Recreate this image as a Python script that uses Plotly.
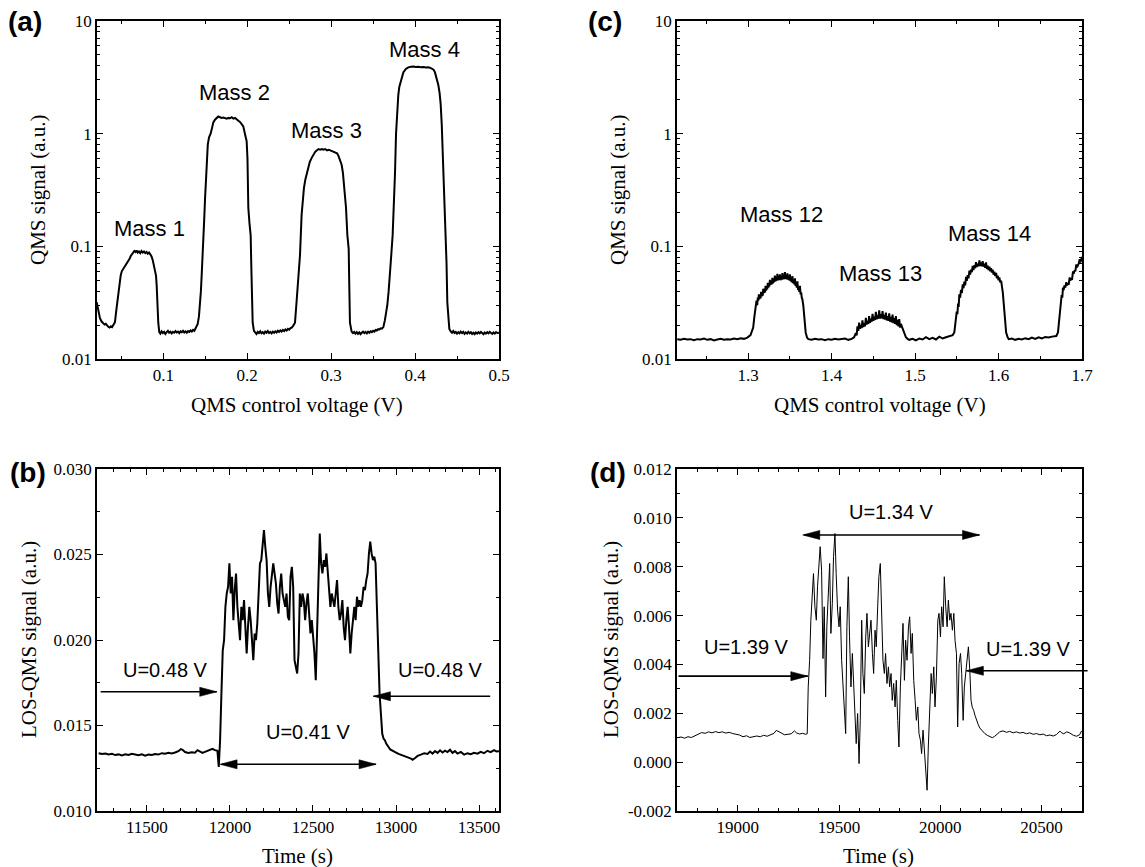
import math
import plotly.graph_objects as go

W, H = 1145, 867

# ---------------- (a) QMS scan, masses 1-4 ----------------
scan_a = [
    (0.0206, 0.032), (0.0225, 0.027), (0.0245, 0.023), (0.0265, 0.0215), (0.0285, 0.0207),
    (0.0300, 0.0202), (0.0315, 0.0205), (0.0330, 0.0196), (0.0345, 0.0193), (0.0360, 0.0190),
    (0.0375, 0.0195), (0.0390, 0.0192), (0.0404, 0.0200), (0.0415, 0.0205), (0.0424, 0.0212),
    (0.0440, 0.027), (0.0452, 0.0325), (0.0465, 0.040), (0.0476, 0.045), (0.0492, 0.055),
    (0.0505, 0.060), (0.0523, 0.063), (0.0540, 0.066), (0.0555, 0.069), (0.0570, 0.071),
    (0.0583, 0.073), (0.0600, 0.078), (0.0612, 0.082), (0.0623, 0.084), (0.0640, 0.088),
    (0.0655, 0.091), (0.0670, 0.089), (0.0682, 0.092), (0.0695, 0.088), (0.0710, 0.090),
    (0.0725, 0.087), (0.0740, 0.091), (0.0755, 0.088), (0.0770, 0.090), (0.0785, 0.087),
    (0.0801, 0.089), (0.0815, 0.086), (0.0830, 0.088), (0.0845, 0.085), (0.0861, 0.081),
    (0.0875, 0.075), (0.0889, 0.068), (0.0900, 0.062), (0.0913, 0.055), (0.0921, 0.045),
    (0.0928, 0.0325), (0.0940, 0.021), (0.0952, 0.0173), (0.0965, 0.0168), (0.0980, 0.0176),
    (0.0995, 0.0170), (0.1010, 0.0174), (0.1025, 0.0167), (0.1040, 0.0173), (0.1055, 0.0178),
    (0.1070, 0.0171), (0.1085, 0.0175), (0.1100, 0.0169), (0.1115, 0.0174), (0.1130, 0.0171),
    (0.1145, 0.0177), (0.1160, 0.0172), (0.1175, 0.0175), (0.1190, 0.0170), (0.1205, 0.0176),
    (0.1220, 0.0173), (0.1235, 0.0178), (0.1250, 0.0172), (0.1265, 0.0176), (0.1280, 0.0171),
    (0.1295, 0.0177), (0.1310, 0.0174), (0.1325, 0.0179), (0.1340, 0.0175), (0.1355, 0.0181),
    (0.1370, 0.0178), (0.1385, 0.0186), (0.1397, 0.0192), (0.1410, 0.0205), (0.1425, 0.024),
    (0.1437, 0.030), (0.1448, 0.040), (0.1457, 0.055), (0.1467, 0.075), (0.1477, 0.110),
    (0.1487, 0.17), (0.1497, 0.26), (0.1507, 0.40), (0.1516, 0.61), (0.1530, 0.80),
    (0.1545, 0.93), (0.1564, 1.00), (0.1580, 1.12), (0.1596, 1.26), (0.1616, 1.33),
    (0.1636, 1.39), (0.1655, 1.42), (0.1675, 1.40), (0.1695, 1.38), (0.1715, 1.39),
    (0.1735, 1.37), (0.1755, 1.36), (0.1775, 1.38), (0.1795, 1.37), (0.1815, 1.40),
    (0.1835, 1.36), (0.1855, 1.38), (0.1875, 1.33), (0.1895, 1.30), (0.1914, 1.27),
    (0.1935, 1.20), (0.1953, 1.16), (0.1975, 0.98), (0.1993, 0.86), (0.2003, 0.60),
    (0.2013, 0.22), (0.2027, 0.16), (0.2041, 0.125), (0.2050, 0.06), (0.2058, 0.030),
    (0.2065, 0.021), (0.2080, 0.0178), (0.2095, 0.0172), (0.2110, 0.0167), (0.2125, 0.0174),
    (0.2140, 0.0170), (0.2155, 0.0176), (0.2170, 0.0169), (0.2185, 0.0173), (0.2200, 0.0168),
    (0.2215, 0.0175), (0.2230, 0.0171), (0.2245, 0.0177), (0.2260, 0.0170), (0.2275, 0.0174),
    (0.2290, 0.0169), (0.2305, 0.0175), (0.2320, 0.0171), (0.2335, 0.0176), (0.2350, 0.0172),
    (0.2365, 0.0178), (0.2380, 0.0174), (0.2395, 0.0179), (0.2410, 0.0175), (0.2425, 0.0181),
    (0.2440, 0.0177), (0.2455, 0.0183), (0.2470, 0.0179), (0.2485, 0.0185), (0.2500, 0.0182),
    (0.2515, 0.0188), (0.2530, 0.0190), (0.2549, 0.0198), (0.2569, 0.021), (0.2585, 0.030),
    (0.2601, 0.045), (0.2615, 0.065), (0.2629, 0.084), (0.2648, 0.19), (0.2662, 0.26),
    (0.2676, 0.33), (0.2692, 0.39), (0.2708, 0.43), (0.2725, 0.50), (0.2745, 0.56),
    (0.2768, 0.61), (0.2790, 0.66), (0.2810, 0.69), (0.2827, 0.71), (0.2850, 0.73),
    (0.2870, 0.72), (0.2890, 0.73), (0.2907, 0.72), (0.2930, 0.73), (0.2950, 0.71),
    (0.2970, 0.72), (0.2990, 0.71), (0.3010, 0.70), (0.3026, 0.69), (0.3050, 0.68),
    (0.3070, 0.67), (0.3085, 0.64), (0.3105, 0.59), (0.3125, 0.53), (0.3140, 0.45),
    (0.3157, 0.33), (0.3177, 0.22), (0.3193, 0.126), (0.3209, 0.095), (0.3216, 0.045),
    (0.3224, 0.021), (0.3244, 0.0175), (0.3260, 0.0170), (0.3275, 0.0174), (0.3290, 0.0168),
    (0.3305, 0.0173), (0.3320, 0.0167), (0.3335, 0.0172), (0.3350, 0.0166), (0.3365, 0.0171),
    (0.3380, 0.0175), (0.3395, 0.0170), (0.3410, 0.0174), (0.3425, 0.0169), (0.3440, 0.0175),
    (0.3455, 0.0171), (0.3470, 0.0176), (0.3485, 0.0173), (0.3500, 0.0178), (0.3515, 0.0175),
    (0.3530, 0.0181), (0.3545, 0.0179), (0.3560, 0.0184), (0.3575, 0.0183), (0.3590, 0.0187),
    (0.3605, 0.0186), (0.3622, 0.0192), (0.3640, 0.022), (0.3655, 0.026), (0.3669, 0.030),
    (0.3685, 0.040), (0.3701, 0.055), (0.3717, 0.085), (0.3733, 0.127), (0.3749, 0.22),
    (0.3761, 0.45), (0.3773, 0.99), (0.3788, 1.7), (0.3800, 2.2), (0.3812, 2.6),
    (0.3836, 3.1), (0.3860, 3.5), (0.3890, 3.75), (0.3920, 3.88), (0.3950, 3.92),
    (0.3979, 3.95), (0.4010, 3.90), (0.4040, 3.93), (0.4070, 3.88), (0.4100, 3.91),
    (0.4130, 3.86), (0.4155, 3.89), (0.4178, 3.85), (0.4200, 3.80), (0.4220, 3.70),
    (0.4237, 3.50), (0.4257, 3.10), (0.4277, 2.70), (0.4292, 2.30), (0.4305, 1.83),
    (0.4318, 1.20), (0.4329, 0.70), (0.4340, 0.40), (0.4349, 0.25), (0.4365, 0.145),
    (0.4375, 0.070), (0.4384, 0.032), (0.4396, 0.021), (0.4408, 0.0185), (0.4425, 0.0176),
    (0.4440, 0.0171), (0.4455, 0.0177), (0.4470, 0.0170), (0.4485, 0.0174), (0.4500, 0.0168),
    (0.4515, 0.0173), (0.4530, 0.0169), (0.4545, 0.0175), (0.4560, 0.0170), (0.4575, 0.0174),
    (0.4590, 0.0167), (0.4605, 0.0172), (0.4620, 0.0168), (0.4635, 0.0174), (0.4650, 0.0169),
    (0.4665, 0.0173), (0.4680, 0.0167), (0.4695, 0.0171), (0.4710, 0.0166), (0.4725, 0.0172),
    (0.4740, 0.0168), (0.4755, 0.0173), (0.4770, 0.0169), (0.4785, 0.0174), (0.4800, 0.0170),
    (0.4815, 0.0166), (0.4830, 0.0172), (0.4845, 0.0168), (0.4860, 0.0173), (0.4875, 0.0169),
    (0.4890, 0.0174), (0.4905, 0.0170), (0.4920, 0.0167), (0.4935, 0.0172), (0.4950, 0.0168),
    (0.4965, 0.0173), (0.4980, 0.0170), (0.5000, 0.0171),
]

mass_labels_a = ["Mass 1", "Mass 2", "Mass 3", "Mass 4"]
mass_pos_a = [(0.0841, 0.145), (0.1854, 2.32), (0.2942, 1.06), (0.4114, 5.55)]

# ---------------- (c) QMS scan, masses 12-14 ----------------
scan_c = [
    (1.2150, 0.0150), (1.2190, 0.0148), (1.2230, 0.0151), (1.2270, 0.0149), (1.2310, 0.0150),
    (1.2350, 0.0147), (1.2390, 0.0150), (1.2430, 0.0149), (1.2470, 0.0152), (1.2510, 0.0148),
    (1.2550, 0.0150), (1.2590, 0.0146), (1.2630, 0.0149), (1.2670, 0.0151), (1.2710, 0.0148),
    (1.2750, 0.0150), (1.2790, 0.0149), (1.2830, 0.0152), (1.2870, 0.0150), (1.2910, 0.0153),
    (1.2950, 0.0151), (1.2990, 0.0155), (1.3028, 0.0163), (1.3045, 0.0175), (1.3060, 0.0190),
    (1.3075, 0.0240), (1.3088, 0.0278), (1.3100, 0.0330), (1.3108, 0.0300), (1.3115, 0.0350),
    (1.3122, 0.0330), (1.3128, 0.0375), (1.3134, 0.0340), (1.3140, 0.0370), (1.3148, 0.0345),
    (1.3155, 0.0395), (1.3162, 0.0360), (1.3168, 0.0385), (1.3174, 0.0365), (1.3180, 0.0420),
    (1.3188, 0.0385), (1.3195, 0.0410), (1.3202, 0.0390), (1.3208, 0.0445), (1.3214, 0.0405),
    (1.3220, 0.0430), (1.3228, 0.0415), (1.3235, 0.0475), (1.3242, 0.0430), (1.3248, 0.0460),
    (1.3254, 0.0440), (1.3260, 0.0505), (1.3268, 0.0455), (1.3275, 0.0485), (1.3282, 0.0460),
    (1.3290, 0.0525), (1.3298, 0.0470), (1.3305, 0.0505), (1.3312, 0.0480), (1.3320, 0.0550),
    (1.3328, 0.0490), (1.3335, 0.0520), (1.3342, 0.0495), (1.3350, 0.0570), (1.3358, 0.0500),
    (1.3365, 0.0540), (1.3372, 0.0505), (1.3380, 0.0565), (1.3388, 0.0500), (1.3395, 0.0535),
    (1.3402, 0.0505), (1.3410, 0.0580), (1.3418, 0.0510), (1.3425, 0.0550), (1.3432, 0.0510),
    (1.3440, 0.0590), (1.3448, 0.0515), (1.3455, 0.0555), (1.3462, 0.0510), (1.3470, 0.0575),
    (1.3478, 0.0505), (1.3485, 0.0540), (1.3492, 0.0500), (1.3500, 0.0565), (1.3508, 0.0490),
    (1.3515, 0.0520), (1.3522, 0.0480), (1.3530, 0.0545), (1.3538, 0.0470), (1.3545, 0.0500),
    (1.3552, 0.0460), (1.3560, 0.0520), (1.3568, 0.0445), (1.3575, 0.0475), (1.3582, 0.0430),
    (1.3590, 0.0490), (1.3598, 0.0410), (1.3605, 0.0440), (1.3612, 0.0395), (1.3620, 0.0445),
    (1.3628, 0.0375), (1.3635, 0.0390), (1.3642, 0.0350), (1.3649, 0.0340), (1.3660, 0.0300),
    (1.3669, 0.0240), (1.3680, 0.0200), (1.3689, 0.0172), (1.3705, 0.0155), (1.3721, 0.0150),
    (1.3760, 0.0148), (1.3800, 0.0151), (1.3840, 0.0149), (1.3880, 0.0150), (1.3920, 0.0147),
    (1.3960, 0.0150), (1.4000, 0.0148), (1.4040, 0.0151), (1.4080, 0.0149), (1.4120, 0.0150),
    (1.4160, 0.0152), (1.4200, 0.0148), (1.4240, 0.0151), (1.4269, 0.0156), (1.4290, 0.0170),
    (1.4300, 0.0162), (1.4309, 0.0195), (1.4320, 0.0178), (1.4330, 0.0210), (1.4340, 0.0185),
    (1.4350, 0.0200), (1.4360, 0.0188), (1.4369, 0.0220), (1.4380, 0.0192), (1.4390, 0.0208),
    (1.4400, 0.0195), (1.4410, 0.0232), (1.4420, 0.0202), (1.4430, 0.0218), (1.4440, 0.0205),
    (1.4449, 0.0240), (1.4460, 0.0210), (1.4470, 0.0228), (1.4480, 0.0214), (1.4490, 0.0252),
    (1.4500, 0.0218), (1.4510, 0.0238), (1.4520, 0.0222), (1.4530, 0.0262), (1.4540, 0.0225),
    (1.4550, 0.0245), (1.4560, 0.0228), (1.4570, 0.0270), (1.4580, 0.0228), (1.4590, 0.0250),
    (1.4600, 0.0230), (1.4610, 0.0266), (1.4620, 0.0226), (1.4630, 0.0246), (1.4640, 0.0224),
    (1.4650, 0.0258), (1.4660, 0.0220), (1.4670, 0.0240), (1.4680, 0.0218), (1.4690, 0.0254),
    (1.4700, 0.0214), (1.4710, 0.0236), (1.4720, 0.0212), (1.4730, 0.0248), (1.4740, 0.0208),
    (1.4750, 0.0230), (1.4760, 0.0205), (1.4770, 0.0240), (1.4780, 0.0200), (1.4790, 0.0222),
    (1.4800, 0.0195), (1.4810, 0.0226), (1.4820, 0.0190), (1.4830, 0.0205), (1.4850, 0.0187),
    (1.4870, 0.0170), (1.4890, 0.0156), (1.4910, 0.0151), (1.4930, 0.0148), (1.4970, 0.0151),
    (1.5010, 0.0146), (1.5050, 0.0152), (1.5090, 0.0149), (1.5130, 0.0156), (1.5170, 0.0150),
    (1.5210, 0.0154), (1.5250, 0.0149), (1.5290, 0.0158), (1.5330, 0.0152), (1.5370, 0.0156),
    (1.5410, 0.0160), (1.5450, 0.0163), (1.5470, 0.0172), (1.5485, 0.0210), (1.5499, 0.0263),
    (1.5507, 0.0250), (1.5515, 0.0310), (1.5522, 0.0290), (1.5530, 0.0375), (1.5540, 0.0350),
    (1.5550, 0.0410), (1.5560, 0.0385), (1.5571, 0.0460), (1.5580, 0.0425), (1.5590, 0.0485),
    (1.5600, 0.0450), (1.5611, 0.0535), (1.5620, 0.0495), (1.5630, 0.0555), (1.5640, 0.0520),
    (1.5651, 0.0610), (1.5660, 0.0560), (1.5670, 0.0620), (1.5680, 0.0590), (1.5690, 0.0670),
    (1.5700, 0.0615), (1.5711, 0.0680), (1.5720, 0.0640), (1.5730, 0.0725), (1.5740, 0.0655),
    (1.5750, 0.0700), (1.5760, 0.0665), (1.5771, 0.0750), (1.5780, 0.0670), (1.5790, 0.0720),
    (1.5800, 0.0665), (1.5810, 0.0740), (1.5820, 0.0660), (1.5831, 0.0700), (1.5840, 0.0645),
    (1.5850, 0.0720), (1.5860, 0.0630), (1.5870, 0.0675), (1.5880, 0.0615), (1.5891, 0.0660),
    (1.5900, 0.0600), (1.5910, 0.0640), (1.5920, 0.0585), (1.5930, 0.0620), (1.5940, 0.0560),
    (1.5950, 0.0595), (1.5960, 0.0545), (1.5971, 0.0580), (1.5980, 0.0520), (1.5990, 0.0550),
    (1.6000, 0.0500), (1.6010, 0.0530), (1.6020, 0.0480), (1.6031, 0.0495), (1.6051, 0.0390),
    (1.6071, 0.0263), (1.6091, 0.0172), (1.6110, 0.0155), (1.6123, 0.0150), (1.6160, 0.0152),
    (1.6200, 0.0148), (1.6240, 0.0151), (1.6280, 0.0149), (1.6320, 0.0153), (1.6360, 0.0150),
    (1.6400, 0.0155), (1.6440, 0.0151), (1.6480, 0.0156), (1.6520, 0.0152), (1.6560, 0.0157),
    (1.6600, 0.0155), (1.6640, 0.0158), (1.6692, 0.0160), (1.6712, 0.0172), (1.6726, 0.0220),
    (1.6740, 0.0278), (1.6748, 0.0330), (1.6756, 0.0370), (1.6764, 0.0350), (1.6772, 0.0430),
    (1.6780, 0.0410), (1.6790, 0.0450), (1.6800, 0.0430), (1.6812, 0.0480), (1.6820, 0.0450),
    (1.6830, 0.0470), (1.6840, 0.0455), (1.6852, 0.0530), (1.6860, 0.0495), (1.6870, 0.0520),
    (1.6880, 0.0505), (1.6892, 0.0600), (1.6900, 0.0570), (1.6910, 0.0610), (1.6920, 0.0600),
    (1.6932, 0.0690), (1.6940, 0.0650), (1.6950, 0.0670), (1.6960, 0.0700), (1.6972, 0.0770),
    (1.6980, 0.0720), (1.6986, 0.0740), (1.6993, 0.0780), (1.7000, 0.0810),
]

mass_labels_c = ["Mass 12", "Mass 13", "Mass 14"]
mass_pos_c = [(1.3404, 0.19), (1.4590, 0.0574), (1.5887, 0.1306)]

# ---------------- (b) LOS-QMS signal around the U=0.41 V window ----------------
los_b_before = [
    (11210, 0.01338), (11230, 0.01333), (11250, 0.01336), (11270, 0.01330), (11290, 0.01334),
    (11310, 0.01327), (11330, 0.01331), (11350, 0.01325), (11370, 0.01332), (11390, 0.01328),
    (11410, 0.01334), (11430, 0.01329), (11450, 0.01326), (11470, 0.01331), (11490, 0.01324),
    (11510, 0.01330), (11530, 0.01327), (11550, 0.01333), (11570, 0.01330), (11590, 0.01338),
    (11610, 0.01335), (11630, 0.01340), (11650, 0.01336), (11670, 0.01342), (11690, 0.01350),
    (11705, 0.01362), (11715, 0.01358), (11730, 0.01345), (11750, 0.01339), (11770, 0.01344),
    (11790, 0.01341), (11805, 0.01356), (11820, 0.01350), (11835, 0.01340), (11850, 0.01346),
    (11865, 0.01352), (11880, 0.01360), (11895, 0.01364), (11910, 0.01356), (11925, 0.01352),
    (11933, 0.01258),
]
los_b_burst_time = [
    11941, 11949, 11957, 11965, 11973, 11981, 11989, 11997, 12005, 12013,
    12021, 12029, 12037, 12045, 12053, 12061, 12069, 12077, 12085, 12093,
    12101, 12109, 12117, 12125, 12133, 12141, 12149, 12157, 12165, 12173,
    12181, 12189, 12197, 12205, 12213, 12221, 12229, 12237, 12245, 12253,
    12261, 12269, 12277, 12285, 12293, 12301, 12309, 12317, 12325, 12333,
    12341, 12349, 12357, 12365, 12373, 12381, 12389, 12397, 12405, 12413,
    12421, 12429, 12437, 12445, 12453, 12461, 12469, 12477, 12485, 12493,
    12501, 12509, 12517, 12525, 12533, 12541, 12549, 12557, 12565, 12573,
    12581, 12589, 12597, 12605, 12613, 12621, 12629, 12637, 12645, 12653,
    12661, 12669, 12677, 12685, 12693, 12701, 12709, 12717, 12725, 12733,
    12741, 12749, 12757, 12765, 12773, 12781, 12789, 12797, 12805, 12813,
    12821, 12829, 12837, 12845, 12853, 12861, 12869, 12877, 12885, 12893,
    12901, 12909, 12917, 12925, 12933, 12941, 12949, 12957, 12965, 12973,
]
los_b_burst_signal = [
    0.01414, 0.01687, 0.01940, 0.01999, 0.02194, 0.02272, 0.02311, 0.02448, 0.02272, 0.02370,
    0.02116, 0.02292, 0.02389, 0.02194, 0.02077, 0.01999, 0.02194, 0.02116, 0.02233, 0.02019,
    0.01921, 0.02077, 0.02194, 0.02116, 0.01960, 0.01882, 0.02038, 0.01999, 0.02097, 0.02272,
    0.02448, 0.02467, 0.02545, 0.02643, 0.02545, 0.02467, 0.02272, 0.02194, 0.02311, 0.02370,
    0.02448, 0.02389, 0.02331, 0.02214, 0.02155, 0.02311, 0.02389, 0.02272, 0.02233, 0.02194,
    0.02272, 0.02136, 0.02116, 0.02370, 0.02428, 0.02311, 0.01882, 0.01843, 0.01804, 0.01921,
    0.02272, 0.02194, 0.02272, 0.02233, 0.02116, 0.02214, 0.02272, 0.02155, 0.02038, 0.02116,
    0.02019, 0.01921, 0.01765, 0.02019, 0.02370, 0.02623, 0.02448, 0.02389, 0.02467, 0.02428,
    0.02506, 0.02389, 0.02311, 0.02194, 0.02272, 0.02233, 0.02194, 0.02272, 0.02350, 0.02194,
    0.02116, 0.02155, 0.02233, 0.02077, 0.01999, 0.02116, 0.02194, 0.02077, 0.01921, 0.02038,
    0.02116, 0.02194, 0.02116, 0.02253, 0.02194, 0.02233, 0.02194, 0.02233, 0.02311, 0.02292,
    0.02350, 0.02389, 0.02506, 0.02575, 0.02506, 0.02467, 0.02487, 0.02448, 0.02194, 0.01921,
    0.01687, 0.01570, 0.01453, 0.01423, 0.01414, 0.01394, 0.01379, 0.01371, 0.01360, 0.01355,
]
los_b_after = [
    (12995, 0.01345), (13015, 0.01334), (13035, 0.01328), (13055, 0.01320), (13075, 0.01312),
    (13090, 0.01306), (13100, 0.01300), (13115, 0.01310), (13130, 0.01322), (13150, 0.01330),
    (13170, 0.01338), (13190, 0.01334), (13205, 0.01348), (13220, 0.01336), (13235, 0.01350),
    (13250, 0.01340), (13265, 0.01355), (13280, 0.01342), (13295, 0.01353), (13310, 0.01345),
    (13325, 0.01358), (13340, 0.01340), (13355, 0.01350), (13370, 0.01336), (13390, 0.01345),
    (13410, 0.01330), (13430, 0.01338), (13450, 0.01332), (13470, 0.01340), (13490, 0.01335),
    (13510, 0.01346), (13530, 0.01338), (13550, 0.01352), (13570, 0.01344), (13590, 0.01356),
    (13605, 0.01348), (13620, 0.01350),
]

# ---------------- (d) LOS-QMS signal around the U=1.34 V window ----------------
los_d_before = [
    (18703, 0.00100), (18720, 0.00103), (18737, 0.00098), (18754, 0.00104), (18771, 0.00101),
    (18788, 0.00108), (18805, 0.00115), (18822, 0.00121), (18839, 0.00118), (18856, 0.00124),
    (18873, 0.00120), (18890, 0.00125), (18907, 0.00121), (18924, 0.00124), (18941, 0.00119),
    (18958, 0.00122), (18975, 0.00117), (18992, 0.00115), (19009, 0.00111), (19026, 0.00104),
    (19043, 0.00108), (19060, 0.00101), (19077, 0.00105), (19094, 0.00107), (19111, 0.00104),
    (19128, 0.00110), (19145, 0.00106), (19162, 0.00112), (19179, 0.00118), (19190, 0.00130),
    (19200, 0.00127), (19214, 0.00120), (19230, 0.00112), (19247, 0.00114), (19264, 0.00116),
    (19280, 0.00128), (19290, 0.00120), (19305, 0.00115), (19320, 0.00118), (19335, 0.00114),
    (19343, 0.00116),
]
los_d_burst_time = [
    19348, 19355, 19361, 19368, 19374, 19381, 19388, 19394, 19401, 19407,
    19414, 19421, 19427, 19434, 19440, 19447, 19454, 19460, 19467, 19473,
    19480, 19486, 19493, 19500, 19506, 19513, 19519, 19526, 19533, 19539,
    19546, 19552, 19559, 19566, 19572, 19579, 19585, 19592, 19599, 19605,
    19612, 19618, 19625, 19632, 19638, 19645, 19651, 19658, 19665, 19671,
    19678, 19684, 19691, 19697, 19704, 19711, 19717, 19724, 19730, 19737,
    19744, 19750, 19757, 19763, 19770, 19777, 19783, 19790, 19796, 19803,
    19810, 19816, 19823, 19829, 19836, 19843, 19849, 19856, 19862, 19869,
    19876, 19882, 19889, 19895, 19902, 19908, 19915, 19922, 19928, 19935,
    19941, 19948, 19955, 19961, 19968, 19974, 19981, 19988, 19994, 20001,
    20007, 20014, 20020, 20027, 20034, 20040, 20047, 20053, 20060, 20067,
    20073, 20080, 20086, 20093, 20100, 20106, 20113, 20119, 20126, 20133,
    20139, 20146, 20152,
]
los_d_burst_signal = [
    0.00308, 0.00417, 0.00581, 0.00690, 0.00772, 0.00636, 0.00581, 0.00718, 0.00841, 0.00882,
    0.00786, 0.00424, 0.00636, 0.00267, 0.00554, 0.00690, 0.00813, 0.00527, 0.00650, 0.00841,
    0.00936, 0.00772, 0.00622, 0.00554, 0.00636, 0.00417, 0.00322, 0.00199, 0.00117, 0.00554,
    0.00759, 0.00513, 0.00308, 0.00445, 0.00335, 0.00212, 0.00076, 0.00199, -0.00006, 0.00171,
    0.00581, 0.00363, 0.00281, 0.00513, 0.00609, 0.00472, 0.00527, 0.00581, 0.00445, 0.00363,
    0.00540, 0.00472, 0.00636, 0.00759, 0.00813, 0.00581, 0.00417, 0.00363, 0.00445, 0.00322,
    0.00390, 0.00308, 0.00363, 0.00253, 0.00322, 0.00226, 0.00335, 0.00171, 0.00062, 0.00308,
    0.00445, 0.00568, 0.00335, 0.00499, 0.00417, 0.00554, 0.00595, 0.00445, 0.00527, 0.00335,
    0.00253, 0.00171, 0.00226, 0.00117, 0.00090, 0.00035, 0.00131, 0.00035, -0.00061, -0.00115,
    0.00062, 0.00199, 0.00363, 0.00281, 0.00390, 0.00226, 0.00349, 0.00581, 0.00609, 0.00513,
    0.00636, 0.00554, 0.00759, 0.00636, 0.00554, 0.00663, 0.00581, 0.00609, 0.00540, 0.00609,
    0.00499, 0.00445, 0.00144, 0.00404, 0.00445, 0.00363, 0.00171, 0.00308, 0.00363, 0.00445,
    0.00472, 0.00376, 0.00253,
]
los_d_after = [
    (20158, 0.00225), (20165, 0.00212), (20172, 0.00190), (20179, 0.00171), (20187, 0.00155),
    (20195, 0.00140), (20207, 0.00128), (20220, 0.00117), (20232, 0.00110), (20245, 0.00103),
    (20257, 0.00100), (20269, 0.00106), (20282, 0.00115), (20294, 0.00124), (20310, 0.00128),
    (20327, 0.00122), (20343, 0.00126), (20360, 0.00120), (20376, 0.00124), (20393, 0.00119),
    (20409, 0.00122), (20426, 0.00116), (20442, 0.00120), (20459, 0.00114), (20475, 0.00117),
    (20492, 0.00112), (20508, 0.00115), (20525, 0.00108), (20541, 0.00111), (20558, 0.00107),
    (20574, 0.00113), (20591, 0.00127), (20600, 0.00120), (20610, 0.00116), (20625, 0.00124),
    (20640, 0.00119), (20657, 0.00110), (20673, 0.00106), (20688, 0.00112), (20698, 0.00128),
]

# Voltage arrows: (text, text_x, text_y, tail_x, head_x, arrow_y, double_headed)
arrows_b = [
    ("U=0.48 V", 11610, 0.01823, 11213, 11921, 0.01697, False),
    ("U=0.48 V", 13265, 0.01827, 13576, 12864, 0.01671, False),
    ("U=0.41 V", 12473, 0.01462, 11941, 12880, 0.01273, True),
]
arrows_d = [
    ("U=1.39 V", 19041, 0.00472, 18700, 19346, 0.00352, False),
    ("U=1.39 V", 20434, 0.00465, 20735, 20129, 0.00374, False),
    ("U=1.34 V", 19758, 0.01025, 19321, 20194, 0.00930, True),
]


def unzip(pairs):
    return [p[0] for p in pairs], [p[1] for p in pairs]


a_x, a_y = unzip(scan_a)
c_x, c_y = unzip(scan_c)
bb_x, bb_y = unzip(los_b_before)
ba_x, ba_y = unzip(los_b_after)
b_x = bb_x + los_b_burst_time + ba_x
b_y = bb_y + los_b_burst_signal + ba_y
db_x, db_y = unzip(los_d_before)
da_x, da_y = unzip(los_d_after)
d_x = db_x + los_d_burst_time + da_x
d_y = db_y + los_d_burst_signal + da_y

fig = go.Figure()
fig.add_trace(go.Scatter(x=a_x, y=a_y, mode="lines", line=dict(color="black", width=2.0),
                         xaxis="x", yaxis="y", showlegend=False))
fig.add_trace(go.Scatter(x=c_x, y=c_y, mode="lines", line=dict(color="black", width=2.0),
                         xaxis="x2", yaxis="y2", showlegend=False))
fig.add_trace(go.Scatter(x=b_x, y=b_y, mode="lines", line=dict(color="black", width=2.0),
                         xaxis="x3", yaxis="y3", showlegend=False))
fig.add_trace(go.Scatter(x=d_x, y=d_y, mode="lines", line=dict(color="black", width=1.0),
                         xaxis="x4", yaxis="y4", showlegend=False))

SERIF = "Liberation Serif"
SANS = "Liberation Sans"
TICK_FONT = dict(family=SERIF, size=17, color="black")


def px_dom(lo, hi, total, flip=False):
    if flip:
        return [1 - hi / total, 1 - lo / total]
    return [lo / total, hi / total]


def axis_style(**kw):
    base = dict(
        showline=True, linecolor="black", linewidth=1.5, mirror="ticks",
        ticks="inside", ticklen=6, tickwidth=1.3, tickcolor="black",
        showgrid=False, zeroline=False, automargin=False,
        tickfont=TICK_FONT,
    )
    base.update(kw)
    return base


def minor_style(**kw):
    base = dict(ticks="inside", ticklen=3.5, tickwidth=1.1, tickcolor="black", showgrid=False)
    base.update(kw)
    return base


left_dom = px_dom(97, 499, W)
right_dom = px_dom(677, 1082, W)
top_dom = px_dom(21, 359, H, flip=True)
bot_dom = px_dom(469, 811, H, flip=True)

log_major = [0.01, 0.1, 1, 10]
log_major_text = ["0.01", "0.1", "1", "10"]
log_minor = [m * d for d in (0.01, 0.1, 1) for m in range(2, 10)]

fig.update_layout(
    width=W, height=H, autosize=False,
    margin=dict(l=0, r=0, t=0, b=0, pad=0, autoexpand=False),
    paper_bgcolor="white", plot_bgcolor="white",
    font=TICK_FONT,
    xaxis=axis_style(domain=left_dom, anchor="y", range=[0.021, 0.5],
                     tickvals=[0.1, 0.2, 0.3, 0.4, 0.5], ticktext=["0.1", "0.2", "0.3", "0.4", "0.5"],
                     minor=minor_style(tickvals=[0.05, 0.15, 0.25, 0.35, 0.45])),
    yaxis=axis_style(domain=top_dom, anchor="x", type="log", range=[-2, 1],
                     tickvals=log_major, ticktext=log_major_text,
                     minor=minor_style(tickvals=log_minor)),
    xaxis2=axis_style(domain=right_dom, anchor="y2", range=[1.2147, 1.7],
                      tickvals=[1.3, 1.4, 1.5, 1.6, 1.7], ticktext=["1.3", "1.4", "1.5", "1.6", "1.7"],
                      minor=minor_style(tickvals=[1.25, 1.35, 1.45, 1.55, 1.65])),
    yaxis2=axis_style(domain=top_dom, anchor="x2", type="log", range=[-2, 1],
                      tickvals=log_major, ticktext=log_major_text,
                      minor=minor_style(tickvals=log_minor)),
    xaxis3=axis_style(domain=left_dom, anchor="y3", range=[11200, 13620],
                      tickvals=[11500, 12000, 12500, 13000, 13500],
                      ticktext=["11500", "12000", "12500", "13000", "13500"],
                      minor=minor_style(dtick=100, tick0=11200)),
    yaxis3=axis_style(domain=bot_dom, anchor="x3", range=[0.010, 0.030],
                      tickvals=[0.010, 0.015, 0.020, 0.025, 0.030],
                      ticktext=["0.010", "0.015", "0.020", "0.025", "0.030"],
                      minor=minor_style(dtick=0.0025, tick0=0.010)),
    xaxis4=axis_style(domain=right_dom, anchor="y4", range=[18700, 20700],
                      tickvals=[19000, 19500, 20000, 20500],
                      ticktext=["19000", "19500", "20000", "20500"],
                      minor=minor_style(dtick=100, tick0=18700)),
    yaxis4=axis_style(domain=bot_dom, anchor="x4", range=[-0.002, 0.012],
                      tickvals=[-0.002, 0.0, 0.002, 0.004, 0.006, 0.008, 0.010, 0.012],
                      ticktext=["-0.002", "0.000", "0.002", "0.004", "0.006", "0.008", "0.010", "0.012"],
                      minor=minor_style(dtick=0.001, tick0=-0.002)),
)

ann = []
shapes = []

# Mass labels on the log-scaled scans (annotation y in log10 units)
for label, (mx, my) in zip(mass_labels_a, mass_pos_a):
    ann.append(dict(x=mx, y=math.log10(my), xref="x", yref="y", text=label, showarrow=False,
                    font=dict(family=SANS, size=22, color="black")))
for label, (mx, my) in zip(mass_labels_c, mass_pos_c):
    ann.append(dict(x=mx, y=math.log10(my), xref="x2", yref="y2", text=label, showarrow=False,
                    font=dict(family=SANS, size=22, color="black")))

HEAD_LEN, HEAD_HALF = 17, 4.5


def add_arrows(items, xr, yr):
    for text, tx, ty, tail, head, ay, both in items:
        ann.append(dict(x=tx, y=ty, xref=xr, yref=yr, text=text, showarrow=False,
                        font=dict(family=SANS, size=20, color="black")))
        # shaft (annotation arrows are not clipped, so a tail may run past the frame)
        ann.append(dict(x=head, y=ay, ax=tail, ay=ay, xref=xr, yref=yr, axref=xr, ayref=yr,
                        text="", showarrow=True, arrowhead=0, arrowwidth=1.6,
                        arrowcolor="black", standoff=0, startstandoff=0))
        # slim filled heads, sized in pixels and anchored at each tip
        tips = [(head, tail)] + ([(tail, head)] if both else [])
        for tip, other in tips:
            s = -1 if tip > other else 1
            shapes.append(dict(
                type="path", xref=xr, yref=yr, xsizemode="pixel", ysizemode="pixel",
                xanchor=tip, yanchor=ay,
                path=f"M0,0 L{s * HEAD_LEN},{HEAD_HALF} L{s * HEAD_LEN},{-HEAD_HALF} Z",
                fillcolor="black", line=dict(color="black", width=0.6),
            ))


add_arrows(arrows_b, "x3", "y3")
add_arrows(arrows_d, "x4", "y4")

# Axis titles
title_font = dict(family=SERIF, size=21, color="black")
axis_titles = [
    ("QMS control voltage (V)", 297, 405, 0),
    ("QMS control voltage (V)", 880, 405, 0),
    ("Time (s)", 298, 856, 0),
    ("Time (s)", 879, 856, 0),
    ("QMS signal (a.u.)", 38, 190, -90),
    ("QMS signal (a.u.)", 618, 190, -90),
    ("LOS-QMS signal (a.u.)", 29, 640, -90),
    ("LOS-QMS signal (a.u.)", 611, 640, -90),
]
for text, px, py, ang in axis_titles:
    ann.append(dict(x=px / W, y=1 - py / H, xref="paper", yref="paper", text=text,
                    showarrow=False, textangle=ang, font=title_font,
                    xanchor="center", yanchor="middle"))

# Panel letters
panel_letters = [("(a)", 25, 22), ("(c)", 605, 22), ("(b)", 28, 472), ("(d)", 608, 472)]
for text, px, py in panel_letters:
    ann.append(dict(x=px / W, y=1 - py / H, xref="paper", yref="paper", text="<b>" + text + "</b>",
                    showarrow=False, font=dict(family=SANS, size=28, color="black"),
                    xanchor="center", yanchor="middle"))

fig.update_layout(annotations=ann, shapes=shapes)
fig.write_html("out.html", include_plotlyjs=True, config={"displayModeBar": False})
